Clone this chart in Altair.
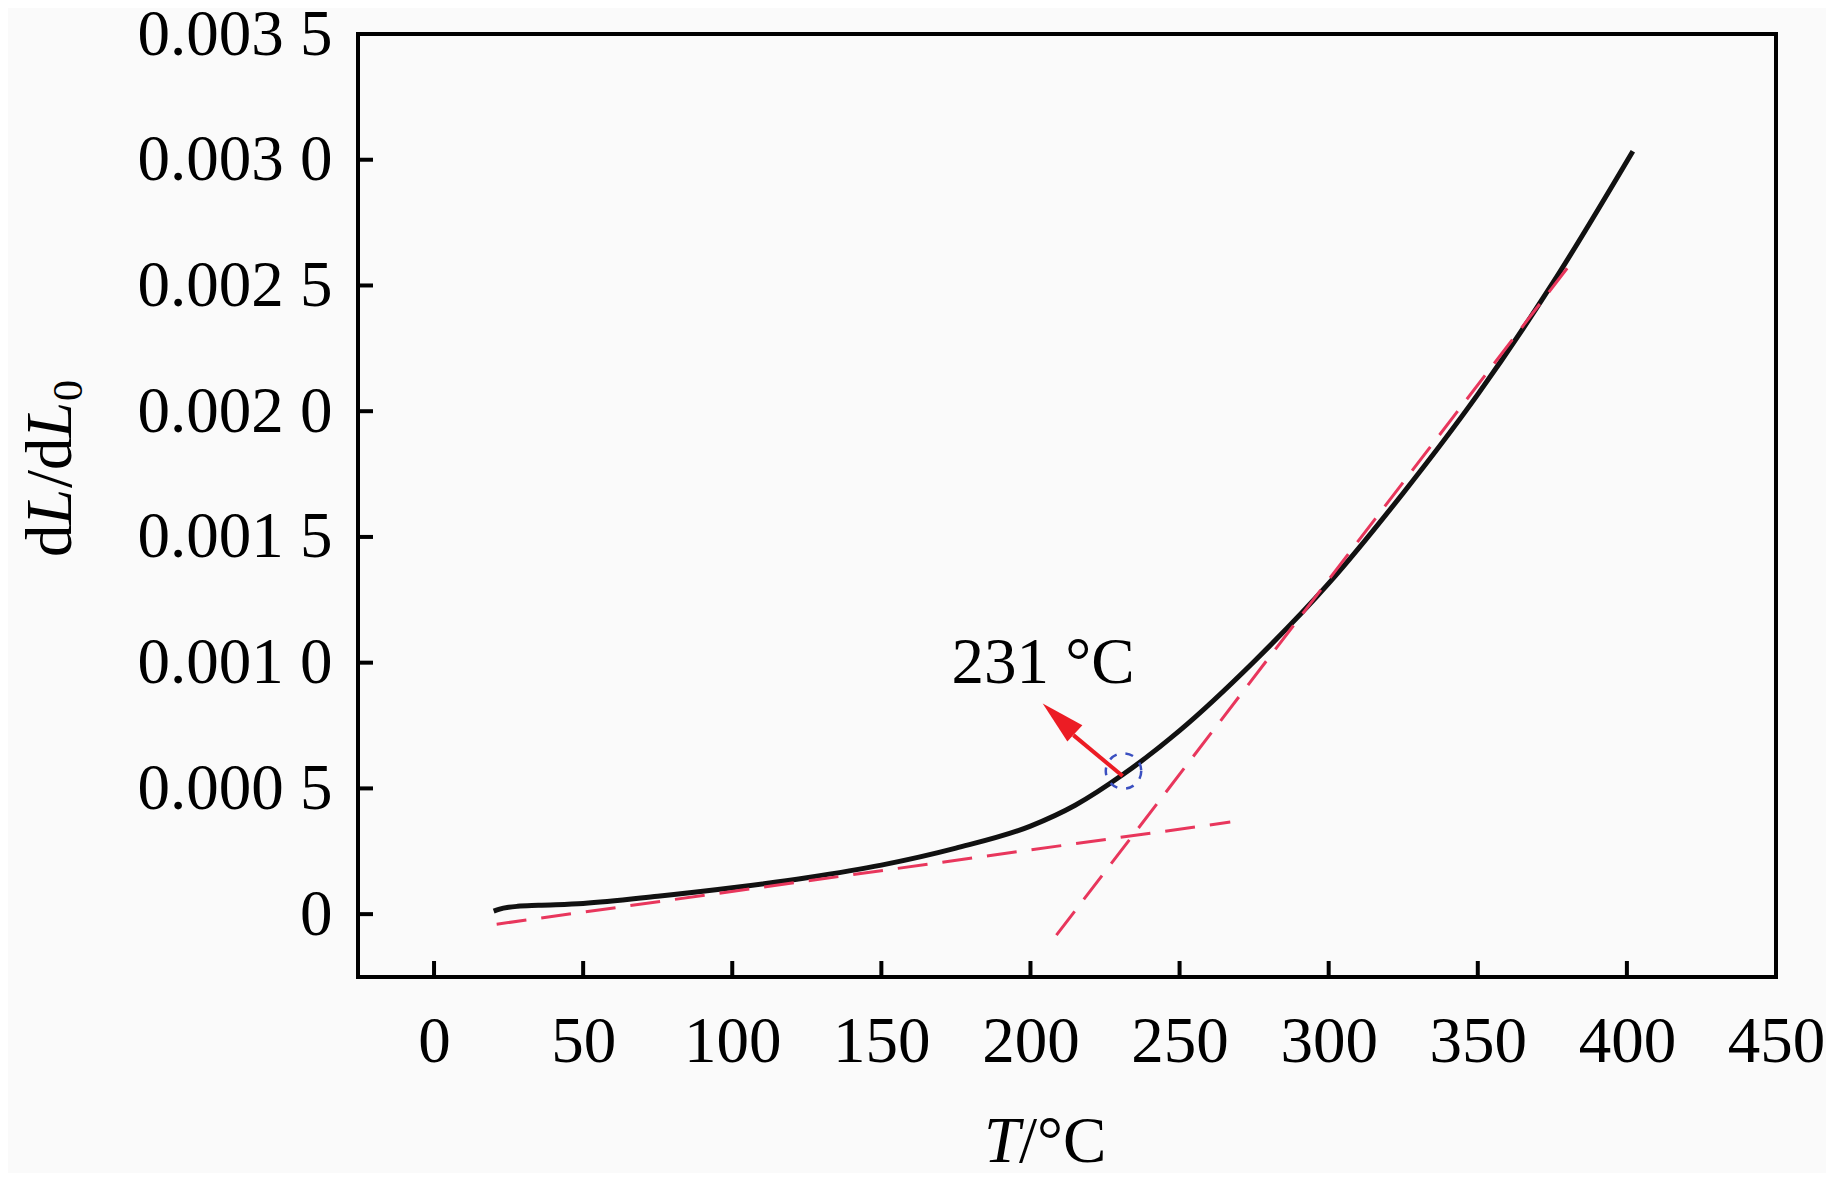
import altair as alt
import pandas as pd

# ---- data ----
T_curve = [20, 22, 25, 28, 35, 50, 75, 100, 125, 150, 175, 200, 215, 231, 250, 275, 300, 325, 350, 375, 402]
v_curve = [0.000012, 0.000020, 0.000027, 0.000031, 0.000035, 0.0000425, 0.0000713, 0.000105, 0.000145,
           0.000195, 0.0002625, 0.000350, 0.000433, 0.000555, 0.000730, 0.001005, 0.001315, 0.001675,
           0.002067, 0.002507, 0.003034]

tan1_T = [21, 267]
tan1_v = [-0.00004, 0.000366]
tan2_T = [208.7, 382]
tan2_v = [-0.0000836, 0.00260]

x_ticks = [0, 50, 100, 150, 200, 250, 300, 350, 400, 450]
y_ticks = [0, 0.0005, 0.0010, 0.0015, 0.0020, 0.0025, 0.0030, 0.0035]

shaft_T = [230.9, 214.4]
shaft_v = [0.000549, 0.000712]
head_T = [204.1]
head_v = [0.000838]

circle_T = [231.2]
circle_v = [0.000569]

label_T = [173.5]
label_v = [0.000919]
label_txt = ["231 °C"]

FONT = "Liberation Serif"
FS = 65
W, H = 1418, 943

xs = alt.Scale(domain=[-25.5, 450], nice=False, zero=False)
ys = alt.Scale(domain=[-0.00025, 0.0035], nice=False, zero=False)

curve_df = pd.DataFrame({"T": T_curve, "v": v_curve})
tan1_df = pd.DataFrame({"T": tan1_T, "v": tan1_v})
tan2_df = pd.DataFrame({"T": tan2_T, "v": tan2_v})
shaft_df = pd.DataFrame({"T": shaft_T, "v": shaft_v})
head_df = pd.DataFrame({"T": head_T, "v": head_v})
circ_df = pd.DataFrame({"T": circle_T, "v": circle_v})
lab_df = pd.DataFrame({"T": label_T, "v": label_v, "txt": label_txt})
xt_df = pd.DataFrame({"T": x_ticks[:-1]})
yt_df = pd.DataFrame({"v": y_ticks[:-1]})

y_label_expr = ("datum.value == 0 ? '0' : substring(format(datum.value, '.4f'), 0, 5) + ' ' + "
                "substring(format(datum.value, '.4f'), 5)")

x_axis = alt.Axis(values=x_ticks, title=None, grid=False, domain=False, ticks=False,
                  labelFont=FONT, labelFontSize=FS, labelColor="black", labelPadding=33,
                  labelFlush=False, labelOverlap=False, labelLimit=0)
y_axis = alt.Axis(values=y_ticks, title=None, grid=False, domain=False, ticks=False,
                  labelFont=FONT, labelFontSize=FS, labelColor="black", labelPadding=26,
                  labelFlush=False, labelOverlap=False, labelExpr=y_label_expr, labelLimit=0)

X = alt.X("T:Q", scale=xs, axis=x_axis)
Y = alt.Y("v:Q", scale=ys, axis=y_axis)

curve = alt.Chart(curve_df).mark_line(color="#111111", strokeWidth=5, interpolate="monotone").encode(x=X, y=Y)

dash_color = "#e8365c"
tan1 = alt.Chart(tan1_df).mark_line(color=dash_color, strokeWidth=3, strokeDash=[30, 15]).encode(x=X, y=Y)
tan2 = alt.Chart(tan2_df).mark_line(color=dash_color, strokeWidth=3, strokeDash=[30, 15]).encode(x=X, y=Y)

arrow_color = "#ec1c24"
shaft = alt.Chart(shaft_df).mark_line(color=arrow_color, strokeWidth=4).encode(x=X, y=Y)
head = alt.Chart(head_df).mark_point(
    shape="M0,0L0.25,1L-0.25,1Z", size=7744, filled=True, color=arrow_color, opacity=1, angle=313
).encode(x=X, y=Y)

circ = alt.Chart(circ_df).mark_point(
    shape="circle", size=1257, filled=False, color="#3a4fc0", strokeWidth=2.5, strokeDash=[8, 9], opacity=1
).encode(x=X, y=Y)

label = alt.Chart(lab_df).mark_text(
    font=FONT, fontSize=FS, color="black", align="left", baseline="alphabetic"
).encode(x=X, y=Y, text="txt:N")

xtick = alt.Chart(xt_df).mark_rule(color="black", strokeWidth=4).encode(
    x=X, y=alt.value(H), y2=alt.value(H - 16))
ytick = alt.Chart(yt_df).mark_rule(color="black", strokeWidth=4).encode(
    y=Y, x=alt.value(0), x2=alt.value(15))

# axis titles (mixed italic / subscript) as text pieces
def txt(s, x, y, style="normal", size=FS, angle=0, dx=0, dy=0):
    return alt.Chart(pd.DataFrame({"s": [s]})).mark_text(
        font=FONT, fontSize=size, fontStyle=style, color="black", align="left",
        baseline="alphabetic", angle=angle, dx=dx, dy=dy
    ).encode(x=alt.value(x), y=alt.value(y), text="s:N")

xt_x, xt_y = 626, 1128
x_title = [txt("T", xt_x, xt_y, "italic"), txt("/°C", xt_x + 35, xt_y)]

yt_x, yt_y = 72 - 359, 557 - 34
y_title = [
    txt("d", yt_x, yt_y, angle=270, dx=0),
    txt("L", yt_x, yt_y, "italic", angle=270, dx=32),
    txt("/d", yt_x, yt_y, angle=270, dx=69),
    txt("L", yt_x, yt_y, "italic", angle=270, dx=119),
    txt("0", yt_x, yt_y, size=42, angle=270, dx=156, dy=11),
]

chart = alt.layer(curve, tan1, tan2, shaft, head, circ, label, xtick, ytick, *x_title, *y_title).properties(
    width=W, height=H,
    autosize=alt.AutoSizeParams(type="none"),
    padding={"left": 350, "top": 26, "right": 50, "bottom": 196},
    background="#fafafa",
).configure_view(stroke="black", strokeWidth=4)

chart.save("out.html", embed_options={"renderer": "svg", "actions": False})
